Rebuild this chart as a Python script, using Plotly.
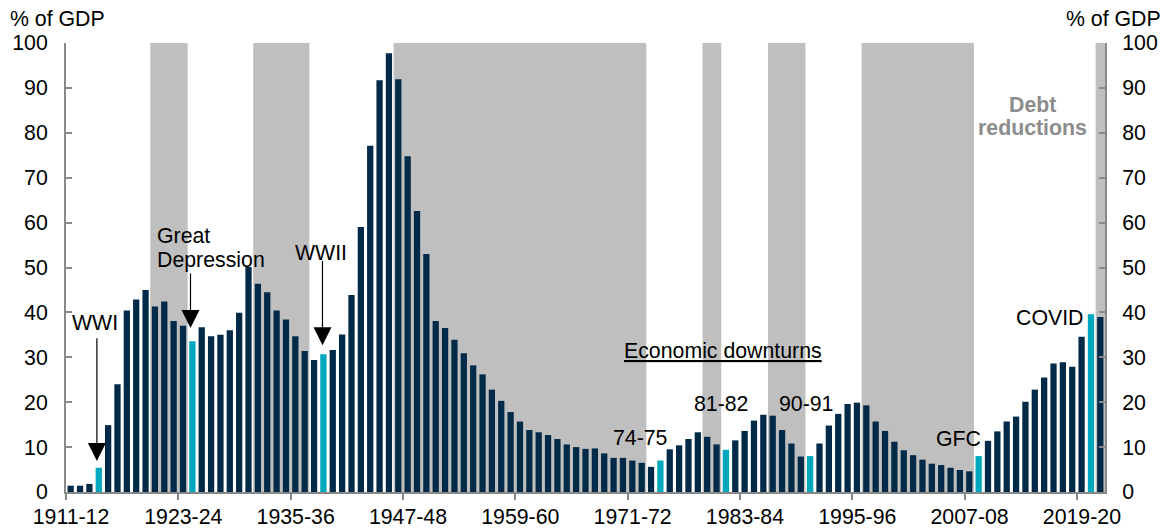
import plotly.graph_objects as go

# ---- data -------------------------------------------------------------
start_year = 1911
debt_pct_gdp = [
    1.4, 1.4, 1.8, 5.4, 14.9, 24.0, 40.4, 42.9, 45.0, 41.3,
    42.4, 38.1, 37.0, 33.6, 36.7, 34.7, 35.0, 36.0, 39.9, 50.1,
    46.4, 44.5, 40.4, 38.4, 34.7, 31.4, 29.4, 30.7, 31.6, 35.1,
    43.9, 59.0, 77.1, 91.7, 97.7, 91.9, 74.8, 62.6, 53.0, 38.1,
    36.5, 33.9, 30.9, 28.2, 26.2, 22.8, 20.3, 17.8, 15.7, 13.8,
    13.3, 12.7, 11.8, 10.6, 10.0, 9.6, 9.7, 8.6, 7.6, 7.6,
    7.0, 6.5, 5.6, 7.0, 9.5, 10.4, 11.8, 13.3, 12.3, 10.6,
    9.4, 11.5, 13.6, 15.9, 17.2, 17.0, 13.8, 10.8, 7.9, 8.0,
    10.8, 14.8, 17.4, 19.6, 19.9, 19.3, 15.7, 13.6, 11.2, 9.3,
    8.2, 7.2, 6.3, 6.0, 5.4, 4.9, 4.6, 8.0, 11.4, 13.5,
    15.7, 16.8, 20.1, 22.8, 25.5, 28.6, 28.9, 27.9, 34.6, 39.6,
    39.0,
]
years = [start_year + i for i in range(len(debt_pct_gdp))]
fy_labels = [f"{y}-{str(y + 1)[-2:]}" for y in years]

# economic downturn years (highlighted bars), first year of financial year
downturn_years = [1914, 1924, 1938, 1974, 1981, 1990, 2008, 2020]

# debt-reduction periods (first FY, last FY), shaded
reduction_start = [1920, 1931, 1946, 1979, 1986, 1996, 2021]
reduction_end = [1923, 1936, 1972, 1980, 1989, 2007, 2021]

tick_label_years = list(range(1911, 2022, 12))
tick_labels = [f"{y}-{str(y + 1)[-2:]}" for y in tick_label_years]

# ---- styles -----------------------------------------------------------
NAVY = "#002A48"
CYAN = "#00A8BE"
SHADE = "#BFBFBF"
AXIS = "#898989"
FONT = "Liberation Sans, Arial, sans-serif"
FS = 21.3
W, H = 1169, 529
ML, MR, MT, MB = 66, 64, 43, 37
PW, PH = W - ML - MR, H - MT - MB

colors = [CYAN if y in downturn_years else NAVY for y in years]

fig = go.Figure()
fig.add_trace(go.Bar(x=years, y=debt_pct_gdp, marker=dict(color=colors, line=dict(width=0)),
                     hovertext=fy_labels, name="Debt"))
fig.add_trace(go.Scatter(x=[None], y=[None], yaxis="y2", showlegend=False, hoverinfo="skip"))

for s, e in zip(reduction_start, reduction_end):
    fig.add_shape(type="rect", xref="x", yref="y", x0=s - 0.5, x1=e + 0.5, y0=0, y1=100,
                  fillcolor=SHADE, line=dict(width=0), layer="below")

yax = dict(range=[0, 100], tickmode="array", tickvals=list(range(0, 101, 10)),
           ticks="inside", ticklen=6, tickwidth=2, tickcolor=AXIS,
           showline=True, linecolor=AXIS, linewidth=2, showgrid=False, zeroline=False,
           automargin=False,
           tickfont=dict(size=FS, color="black", family=FONT), fixedrange=True)

fig.update_layout(
    width=W, height=H,
    margin=dict(l=ML, r=MR, t=MT, b=MB, autoexpand=False),
    plot_bgcolor="white", paper_bgcolor="white",
    bargap=0.33, showlegend=False,
    font=dict(family=FONT, size=FS, color="black"),
    xaxis=dict(range=[start_year - 0.5, years[-1] + 0.5], tickmode="array",
               tickvals=[y - 0.5 for y in tick_label_years], ticktext=tick_labels,
               ticklabelshift=5, ticklabelstandoff=-2, automargin=False,
               ticks="outside", ticklen=6, tickwidth=2, tickcolor=AXIS,
               showline=True, linecolor=AXIS, linewidth=2, showgrid=False, zeroline=False,
               tickfont=dict(size=FS, color="black", family=FONT), fixedrange=True),
    yaxis=dict(yax, ticklabelstandoff=12),
    yaxis2=dict(yax, overlaying="y", side="right", ticklabelstandoff=11),
)

def label(x, y, text, xanchor="center", **font):
    f = dict(size=FS, color="black", family=FONT)
    f.update(font)
    fig.add_annotation(x=x, y=y, xref="x", yref="y", text=text, showarrow=False,
                       xanchor=xanchor, yanchor="middle", font=f)

def arrow(x, y_tail, y_tip):
    fig.add_annotation(x=x, y=y_tip, ax=x, ay=y_tail, xref="x", yref="y",
                       axref="x", ayref="y", text="", showarrow=True,
                       arrowhead=2, arrowsize=3.0, arrowwidth=1.2, arrowcolor="black")

label(1910.9, 37.6, "WWI", xanchor="left")
arrow(1913.8, 34.6, 6.9)
label(1920.0, 57.1, "Great", xanchor="left")
label(1920.0, 51.7, "Depression", xanchor="left")
arrow(1923.8, 49.0, 36.5)
label(1934.7, 53.2, "WWII", xanchor="left")
arrow(1937.9, 51.8, 32.7)
label(1971.8, 12.1, "74-75")
label(1980.45, 19.6, "81-82")
label(1989.6, 19.6, "90-91")
label(2005.9, 11.8, "GFC")
label(2015.6, 38.7, "COVID")
label(1980.7, 31.4, "Economic downturns", lineposition="under")
label(2013.8, 86.3, "<b>Debt</b>", color="#8C8C8C")
label(2013.8, 81.0, "<b>reductions</b>", color="#8C8C8C")

# axis unit labels above the plot
unit_y = 1 + (MT - 19) / PH
fig.add_annotation(x=(8 - ML) / PW, y=unit_y, xref="paper", yref="paper", text="% of GDP",
                   showarrow=False, xanchor="left", yanchor="middle",
                   font=dict(size=FS, family=FONT, color="black"))
fig.add_annotation(x=(1163 - ML) / PW, y=unit_y, xref="paper", yref="paper", text="% of GDP",
                   showarrow=False, xanchor="right", yanchor="middle",
                   font=dict(size=FS, family=FONT, color="black"))

fig.write_html("out.html", config={"displayModeBar": False},
               post_script="document.body.style.margin='0';")
